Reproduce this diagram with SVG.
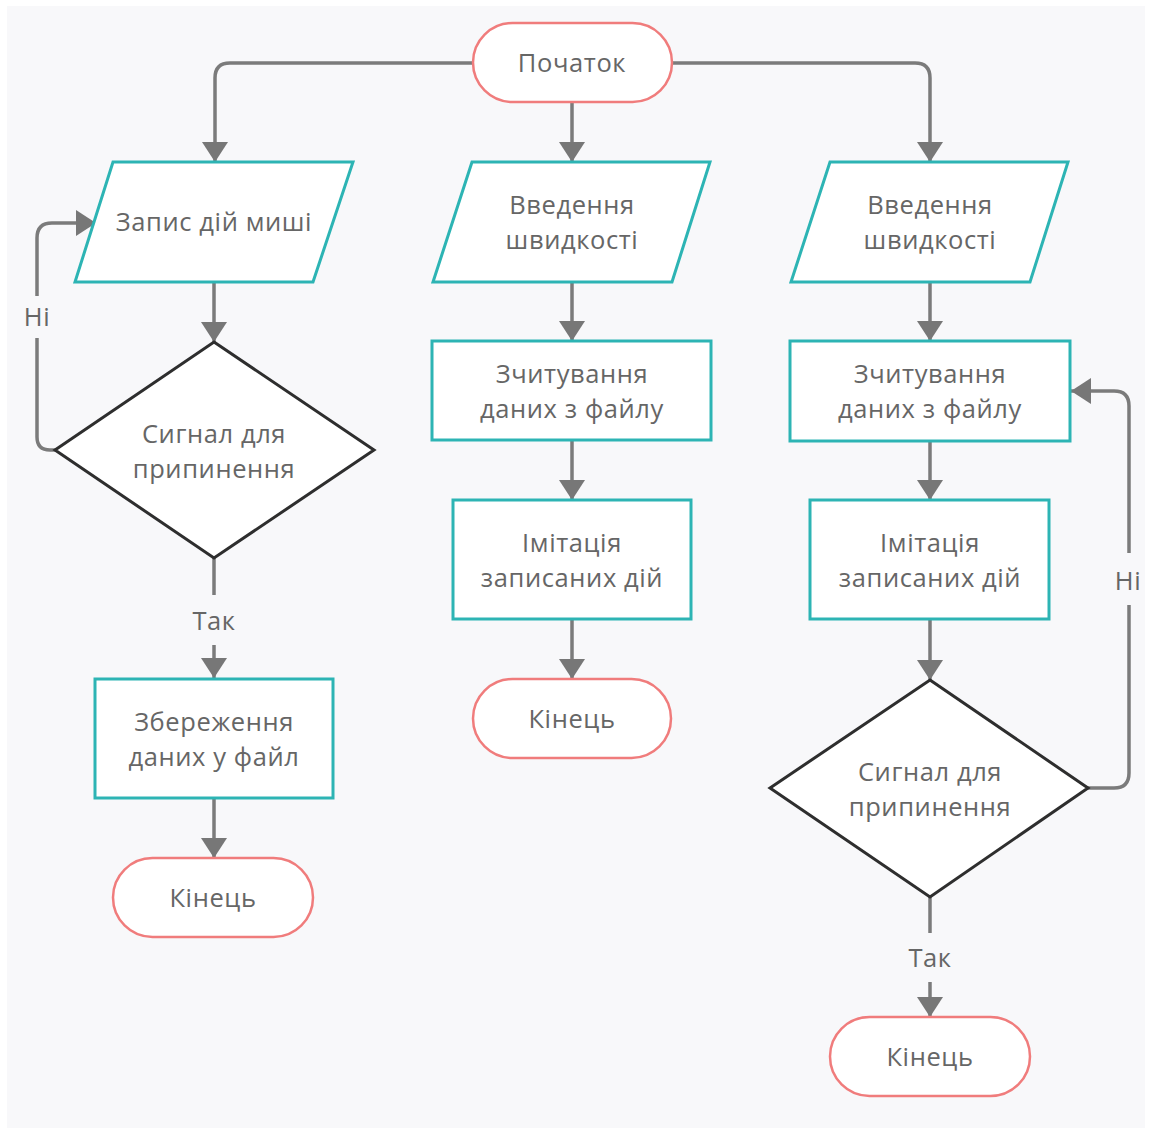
<svg xmlns="http://www.w3.org/2000/svg" width="1151" height="1129" viewBox="0 0 1151 1129">
<style>
.term{fill:#ffffff;stroke:#f07c7c;stroke-width:2.5}
.proc{fill:#ffffff;stroke:#2db4b4;stroke-width:3}
.dec{fill:#ffffff;stroke:#2e2e2e;stroke-width:3}
.t{font-family:"Open Sans","Noto Sans",sans-serif;font-size:25.5px;letter-spacing:0.6px;fill:#666666;text-anchor:middle}
.c{fill:none;stroke:#7b7b7b;stroke-width:3.5}
</style>
<defs>
<marker id="ah" markerUnits="userSpaceOnUse" markerWidth="28" markerHeight="28" viewBox="0 0 20 28" refX="20" refY="14" orient="auto">
<path d="M0,1 L20,14 L0,27 Z" fill="#777777"/>
</marker>
</defs>
<rect x="0" y="0" width="1151" height="1129" fill="#ffffff"/>
<rect x="7" y="6" width="1138" height="1122" fill="#f8f8fa"/>

<g id="connectors">
<path class="c" d="M473,63 H230 Q215,63 215,78 V162" marker-end="url(#ah)"/>
<path class="c" d="M572,102 V162" marker-end="url(#ah)"/>
<path class="c" d="M672,63 H915 Q930,63 930,78 V162" marker-end="url(#ah)"/>
<path class="c" d="M214,282 V342" marker-end="url(#ah)"/>
<path class="c" d="M214,558 V595"/>
<path class="c" d="M214,645 V678" marker-end="url(#ah)"/>
<path class="c" d="M214,798 V858" marker-end="url(#ah)"/>
<path class="c" d="M55,450 H50 Q37,450 37,437 V338"/>
<path class="c" d="M37,296 V238 Q37,223 52,223 H96" marker-end="url(#ah)"/>
<path class="c" d="M572,282 V341" marker-end="url(#ah)"/>
<path class="c" d="M572,440 V500" marker-end="url(#ah)"/>
<path class="c" d="M572,619 V679" marker-end="url(#ah)"/>
<path class="c" d="M930,282 V341" marker-end="url(#ah)"/>
<path class="c" d="M930,441 V500" marker-end="url(#ah)"/>
<path class="c" d="M930,619 V680" marker-end="url(#ah)"/>
<path class="c" d="M930,897 V933"/>
<path class="c" d="M930,982 V1017" marker-end="url(#ah)"/>
<path class="c" d="M1088,788 H1114 Q1129,788 1129,773 V605"/>
<path class="c" d="M1129,553 V406 Q1129,391 1114,391 H1071" marker-end="url(#ah)"/>
<text class="t" x="37" y="326">Ні</text>
<text class="t" x="214" y="630">Так</text>
<text class="t" x="1128" y="590">Ні</text>
<text class="t" x="930" y="967">Так</text>
</g>

<g id="start">
<rect class="term" x="473" y="23" width="199" height="79" rx="39.5"/>
<text class="t" x="572" y="72">Початок</text>
</g>

<g id="record">
<polygon class="proc" points="113,162 353,162 313,282 75,282"/>
<text class="t" x="214" y="231">Запис дій миші</text>
</g>
<g id="signal1">
<polygon class="dec" points="214,342 374,450 214,558 55,450"/>
<text class="t" x="214" y="443">Сигнал для</text>
<text class="t" x="214" y="478">припинення</text>
</g>
<g id="save">
<rect class="proc" x="95" y="679" width="238" height="119"/>
<text class="t" x="214" y="731">Збереження</text>
<text class="t" x="214" y="766">даних у файл</text>
</g>
<g id="end1">
<rect class="term" x="113" y="858" width="200" height="79" rx="39.5"/>
<text class="t" x="213" y="907">Кінець</text>
</g>

<g id="speed2">
<polygon class="proc" points="472,162 710,162 672,282 433,282"/>
<text class="t" x="572" y="214">Введення</text>
<text class="t" x="572" y="249">швидкості</text>
</g>
<g id="read2">
<rect class="proc" x="432" y="341" width="279" height="99"/>
<text class="t" x="572" y="383">Зчитування</text>
<text class="t" x="572" y="418">даних з файлу</text>
</g>
<g id="imit2">
<rect class="proc" x="453" y="500" width="238" height="119"/>
<text class="t" x="572" y="552">Імітація</text>
<text class="t" x="572" y="587">записаних дій</text>
</g>
<g id="end2">
<rect class="term" x="473" y="679" width="198" height="79" rx="39.5"/>
<text class="t" x="572" y="728">Кінець</text>
</g>

<g id="speed3">
<polygon class="proc" points="830,162 1068,162 1030,282 791,282"/>
<text class="t" x="930" y="214">Введення</text>
<text class="t" x="930" y="249">швидкості</text>
</g>
<g id="read3">
<rect class="proc" x="790" y="341" width="280" height="100"/>
<text class="t" x="930" y="383">Зчитування</text>
<text class="t" x="930" y="418">даних з файлу</text>
</g>
<g id="imit3">
<rect class="proc" x="810" y="500" width="239" height="119"/>
<text class="t" x="930" y="552">Імітація</text>
<text class="t" x="930" y="587">записаних дій</text>
</g>
<g id="signal3">
<polygon class="dec" points="930,680 1088,788 930,897 770,788"/>
<text class="t" x="930" y="781">Сигнал для</text>
<text class="t" x="930" y="816">припинення</text>
</g>
<g id="end3">
<rect class="term" x="830" y="1017" width="200" height="79" rx="39.5"/>
<text class="t" x="930" y="1066">Кінець</text>
</g>
</svg>
